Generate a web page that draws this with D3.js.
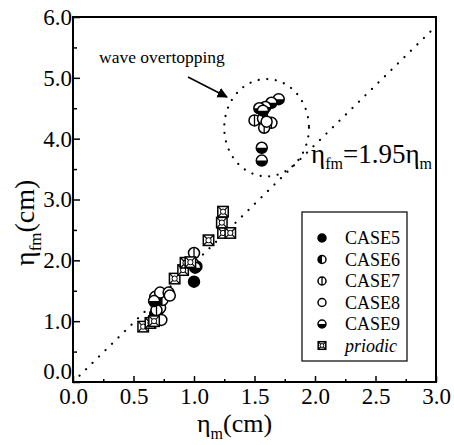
<!DOCTYPE html>
<head>
<meta charset="utf-8">
<script src="https://d3js.org/d3.v7.min.js"></script>
<style>
  body {margin: 0; background: #fff;}
</style>
</head>
<body>
<script>
// data
var seriesNames = ["CASE5", "CASE6", "CASE7", "CASE8", "CASE9", "priodic"];
var case5 = [[1.00,1.65],[0.70,1.28],[0.68,1.12],[0.66,1.02],[1.02,1.90],[0.71,1.20]];
var case6 = [[0.72,1.22],[0.70,1.05],[0.99,1.95],[0.74,1.35]];
var case7 = [[1.00,2.12],[1.50,4.30],[1.57,4.33],[1.64,4.26],[1.58,4.18],[0.69,1.18]];
var case8 = [[0.68,1.40],[0.72,1.47],[0.79,1.47],[0.80,1.42],[1.60,4.28],[0.73,1.02]];
var case9 = [[1.70,4.65],[1.64,4.59],[1.59,4.52],[1.54,4.50],[1.57,4.46],[1.56,3.85],[1.56,3.64],[1.01,1.88],[0.67,1.33]];
var priodic = [[0.58,0.91],[0.64,0.97],[0.67,1.00],[0.84,1.70],[0.91,1.84],[0.93,1.96],[0.97,1.97],[1.12,2.33],[1.24,2.45],[1.30,2.45],[1.23,2.62],[1.24,2.80]];
var xTicks = [0, 0.5, 1.0, 1.5, 2.0, 2.5, 3.0];
var yTicks = [0, 1, 2, 3, 4, 5, 6];
var slope = 1.95;
var overtop = {cx: 1.60, cy: 4.18, rx: 0.35, ry: 0.80};

var serif = "'Liberation Serif', 'Times New Roman', 'DejaVu Serif', serif";
var width = 454, height = 445;
var margin = {top: 17, right: 18, bottom: 63, left: 73};

var svg = d3.select("body").append("svg")
	.attr("width", width)
	.attr("height", height)
	.attr("font-family", serif);

var x = d3.scaleLinear().domain([0, 3]).range([margin.left, width - margin.right]);
var y = d3.scaleLinear().domain([0, 6]).range([height - margin.bottom, margin.top]);

// major + minor ticks, pointing inward
svg.append("g")
	.attr("transform", "translate(0," + y(0) + ")")
	.call(d3.axisBottom(x).tickValues(d3.range(0.25, 3, 0.5)).tickSize(-3).tickFormat(""))
	.call(function(g){ g.select(".domain").remove(); g.selectAll("line").attr("stroke-width", 1.5); });
var xa = svg.append("g")
	.attr("transform", "translate(0," + y(0) + ")")
	.call(d3.axisBottom(x).tickValues(xTicks).tickSize(-6).tickPadding(5).tickFormat(d3.format(".1f")))
	.attr("font-family", serif);
xa.select(".domain").remove();
xa.selectAll("line").attr("stroke-width", 1.5);
xa.selectAll("text").attr("font-size", 23).attr("dy", "0.75em");

svg.append("g")
	.attr("transform", "translate(" + x(0) + ",0)")
	.call(d3.axisLeft(y).tickValues(d3.range(0.5, 6, 1)).tickSize(-4).tickFormat(""))
	.call(function(g){ g.select(".domain").remove(); g.selectAll("line").attr("stroke-width", 1.5); });
var ya = svg.append("g")
	.attr("transform", "translate(" + x(0) + ",0)")
	.call(d3.axisLeft(y).tickValues(yTicks).tickSize(-7).tickPadding(1).tickFormat(d3.format(".1f")))
	.attr("font-family", serif);
ya.select(".domain").remove();
ya.selectAll("line").attr("stroke-width", 1.5);
ya.selectAll("text").attr("font-size", 23)
	.attr("dy", function(d){ return d == 0 ? "-0.15em" : "0.32em"; });

// frame
svg.append("rect")
	.attr("x", x(0)).attr("y", y(6))
	.attr("width", x(3) - x(0)).attr("height", y(0) - y(6))
	.attr("fill", "none").attr("stroke", "#000").attr("stroke-width", 2);

// fitted line
svg.append("line")
	.attr("x1", x(0)).attr("y1", y(0))
	.attr("x2", x(3)).attr("y2", y(3 * slope))
	.attr("stroke", "#000").attr("stroke-width", 2.2)
	.attr("stroke-linecap", "round")
	.attr("stroke-dasharray", "0.1,9");

// dotted ellipse round the overtopping cases
svg.append("ellipse")
	.attr("cx", x(overtop.cx)).attr("cy", y(overtop.cy))
	.attr("rx", x(overtop.rx) - x(0)).attr("ry", y(0) - y(overtop.ry))
	.attr("fill", "none").attr("stroke", "#000").attr("stroke-width", 2.2)
	.attr("stroke-linecap", "round")
	.attr("stroke-dasharray", "0.1,8.5");

// annotation
svg.append("text").attr("x", 99).attr("y", 63).attr("font-size", 17.5).text("wave overtopping");
svg.append("defs").append("marker")
	.attr("id", "ah").attr("viewBox", "0 0 10 10").attr("refX", 9).attr("refY", 5)
	.attr("markerWidth", 7).attr("markerHeight", 7).attr("orient", "auto")
	.append("path").attr("d", "M0,0L10,5L0,10Z").attr("fill", "#000");
svg.append("line")
	.attr("x1", 188).attr("y1", 77).attr("x2", 227).attr("y2", 97)
	.attr("stroke", "#000").attr("stroke-width", 1.5)
	.attr("marker-end", "url(#ah)");

var eq = svg.append("text").attr("x", 311).attr("y", 163).attr("font-size", 27);
eq.append("tspan").text("η");
eq.append("tspan").attr("dy", 6).attr("font-size", 16).text("fm");
eq.append("tspan").attr("dy", -6).text("=1.95η");
eq.append("tspan").attr("dy", 6).attr("font-size", 16).text("m");

// symbols
function symbol(g, kind, r) {
	var arc = d3.arc().innerRadius(0).outerRadius(r);
	if (kind == "priodic") {
		var s = r * 0.95;
		g.append("rect").attr("x", -s).attr("y", -s).attr("width", 2 * s).attr("height", 2 * s)
			.attr("fill", "#fff").attr("stroke", "#000").attr("stroke-width", 1.5);
		g.append("path").attr("d", "M" + (-s) + "," + (-s) + "L" + s + "," + s + "M" + s + "," + (-s) + "L" + (-s) + "," + s)
			.attr("stroke", "#000").attr("stroke-width", 1.2);
		g.append("circle").attr("r", s * 0.5).attr("fill", "#fff").attr("stroke", "#000").attr("stroke-width", 1);
		return;
	}
	g.append("circle").attr("r", r)
		.attr("fill", kind == "CASE5" ? "#000" : "#fff")
		.attr("stroke", "#000").attr("stroke-width", 1.5);
	if (kind == "CASE6")
		g.append("path").attr("d", arc({startAngle: Math.PI, endAngle: 2 * Math.PI})).attr("fill", "#000");
	if (kind == "CASE9")
		g.append("path").attr("d", arc({startAngle: Math.PI / 2, endAngle: 1.5 * Math.PI})).attr("fill", "#000");
	if (kind == "CASE7")
		g.append("line").attr("y1", -r).attr("y2", r).attr("stroke", "#000").attr("stroke-width", 1.3);
}

var series = [case5, case6, case7, case8, case9, priodic];
series.forEach(function(pts, i) {
	svg.append("g").selectAll("g")
		.data(pts)
		.enter()
		.append("g")
		.attr("transform", function(d){ return "translate(" + x(d[0]) + "," + y(d[1]) + ")"; })
		.each(function(){ symbol(d3.select(this), seriesNames[i], 5.5); });
});

// legend
var lg = svg.append("g");
lg.append("rect").attr("x", 302).attr("y", 212).attr("width", 105).attr("height", 149)
	.attr("fill", "#fff").attr("stroke", "#000").attr("stroke-width", 1.2);
var row = lg.selectAll(".row")
	.data(seriesNames)
	.enter()
	.append("g")
	.attr("class", "row")
	.attr("transform", function(d, i){ return "translate(322," + (238 + i * 21.5) + ")"; });
row.each(function(d){ symbol(d3.select(this), d, 4); });
row.append("text")
	.attr("x", 23).attr("dy", "0.35em")
	.attr("font-size", 18)
	.attr("font-style", function(d){ return d == "priodic" ? "italic" : null; })
	.text(function(d){ return d; });

// axis titles
var xt = svg.append("text").attr("x", 197).attr("y", 432).attr("font-size", 26);
xt.append("tspan").text("η");
xt.append("tspan").attr("dy", 7).attr("font-size", 16).text("m");
xt.append("tspan").attr("dy", -7).text("(cm)");

var yt = svg.append("text").attr("transform", "translate(34,266) rotate(-90)").attr("font-size", 28);
yt.append("tspan").text("η");
yt.append("tspan").attr("dy", 7).attr("font-size", 17).text("fm");
yt.append("tspan").attr("dy", -7).text("(cm)");
</script>
</body>
</html>
